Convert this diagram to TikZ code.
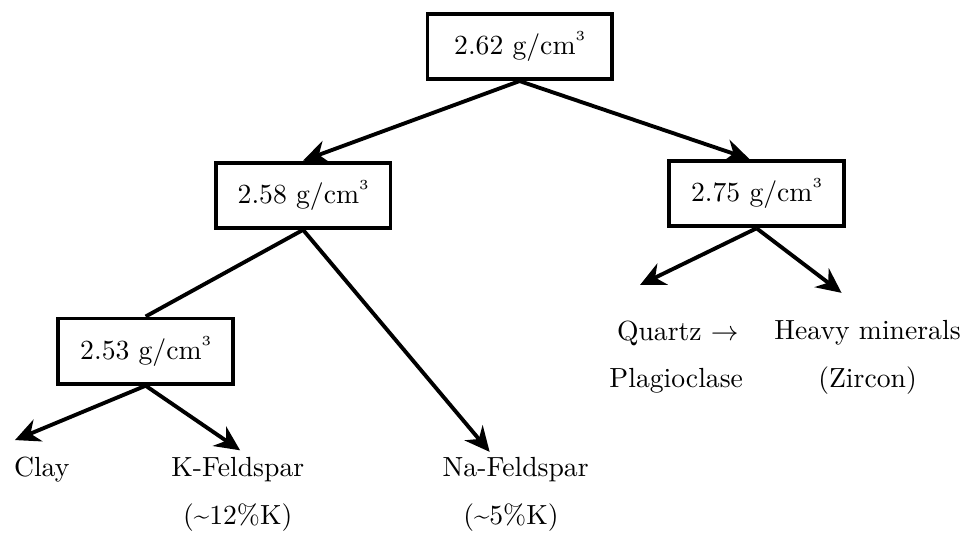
\documentclass[tikz,border=0pt]{standalone}
\usepackage{amssymb, amsmath}
\usepackage{tikz}
\usetikzlibrary{arrows.meta,shapes,positioning}
\usetikzlibrary{calc}
\newcommand{\gcmcube}{g/cm\raisebox{1.15ex}{\tiny 3}}
\tikzstyle{densbox} = [rectangle, text centered, draw=black, line width=1.4pt, minimum width=2.22cm, minimum height=0.83cm]
\tikzstyle{mineral} = [text centered]
\tikzstyle{arrow}   = [line width=1.4pt,-{Stealth[length=9pt,width=8.5pt]}]
\tikzstyle{branch}  = [line width=1.4pt]

\begin{document}
\begin{tikzpicture}[node distance=0.4cm]
            \useasboundingbox (0,0) rectangle (12.22,-6.93);
            %Create density boxes
            \node (dens_262) [densbox, minimum width=2.34cm] at (6.60,-0.59) {2.62 \gcmcube};
            \node (dens_258) [densbox] at (3.85,-2.48) {2.58 \gcmcube};
            \node (dens_275) [densbox] at (9.61,-2.46) {2.75 \gcmcube};
            \node (dens_253) [densbox] at (1.85,-4.46) {2.53 \gcmcube};
            %Create mineral labels
            \node (quartz) [mineral] at (8.61,-4.23)  {Quartz $\rightarrow$};
            \node (plagio) [mineral] at (8.59,-4.84)  {Plagioclase};
            \node (heavy)  [mineral] at (11.02,-4.23) {Heavy minerals};
            \node (zircon) [mineral] at (11.02,-4.84) {(Zircon)};
            \node (clay)   [mineral] at (0.53,-5.96)  {Clay};
            \node (kfeld)  [mineral] at (3.02,-5.96)  {K-Feldspar};
            \node (kfeld_k)  [mineral] at (3.02,-6.57)  {(\textasciitilde12\%K)};
            \node (nafeld) [mineral] at (6.55,-5.96)  {Na-Feldspar};
            \node (nafeld_k) [mineral] at (6.49,-6.57)  {(\textasciitilde5\%K)};
            %Arrow tips above the labels
            \coordinate[above of=quartz, xshift=-0.48cm, yshift=0.21cm]  (tip_quartz);
            \coordinate[above of=heavy,  xshift=-0.33cm, yshift=0.11cm]  (tip_heavy);
            \coordinate[above of=clay,   xshift=-0.34cm, yshift=-0.03cm] (tip_clay);
            \coordinate[above of=kfeld,  xshift=0.03cm,  yshift=-0.16cm] (tip_kfeld);
            \coordinate[above of=nafeld, xshift=-0.33cm, yshift=-0.18cm] (tip_nafeld);
            %Connect the tree
            \draw [arrow]  (dens_262.south) -- (dens_258.north);
            \draw [arrow]  (dens_262.south) -- ([xshift=-0.09cm]dens_275.north);
            \draw [branch] (dens_258.south) -- (dens_253.north);
            \draw [arrow]  (dens_258.south) -- (tip_nafeld);
            \draw [arrow]  (dens_275.south) -- (tip_quartz);
            \draw [arrow]  (dens_275.south) -- (tip_heavy);
            \draw [arrow]  (dens_253.south) -- (tip_clay);
            \draw [arrow]  (dens_253.south) -- (tip_kfeld);
        \end{tikzpicture}
\end{document}
